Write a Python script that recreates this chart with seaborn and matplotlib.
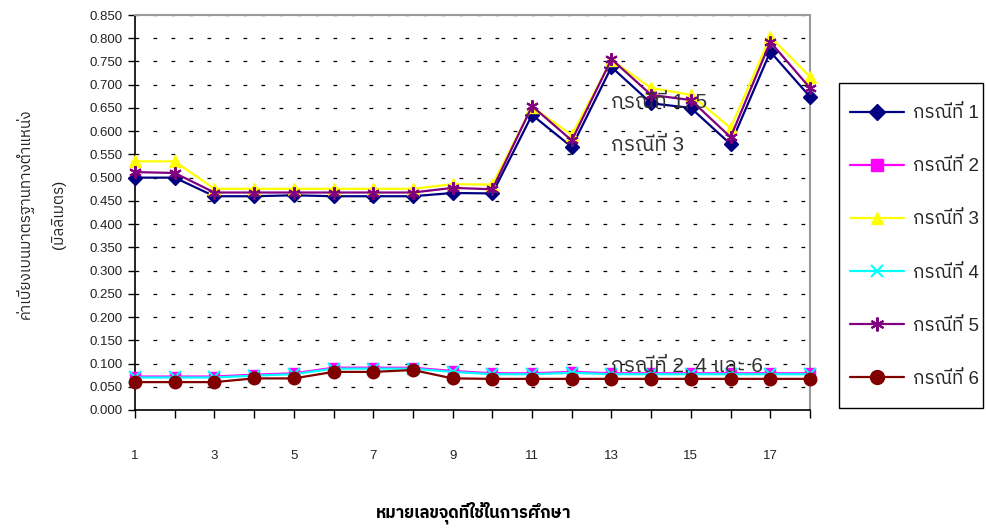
import matplotlib
matplotlib.use("Agg")
import matplotlib.pyplot as plt
from matplotlib import font_manager, ft2font
from matplotlib.lines import Line2D
from matplotlib.patches import Rectangle
import seaborn as sns
import pandas as pd

# ---- data -------------------------------------------------------------
points = list(range(1, 19))
case1 = [0.500, 0.500, 0.460, 0.460, 0.462, 0.460, 0.460, 0.460, 0.467, 0.466,
         0.635, 0.566, 0.738, 0.660, 0.650, 0.572, 0.771, 0.674]
case2 = [0.072, 0.072, 0.072, 0.076, 0.079, 0.091, 0.091, 0.091, 0.084, 0.079,
         0.079, 0.082, 0.079, 0.079, 0.079, 0.079, 0.079, 0.079]
case3 = [0.535, 0.535, 0.476, 0.476, 0.476, 0.476, 0.476, 0.476, 0.486, 0.485,
         0.652, 0.592, 0.753, 0.693, 0.678, 0.607, 0.803, 0.717]
case4 = [0.070, 0.070, 0.070, 0.074, 0.077, 0.089, 0.089, 0.089, 0.082, 0.077,
         0.077, 0.080, 0.077, 0.077, 0.077, 0.077, 0.077, 0.077]
case5 = [0.512, 0.510, 0.468, 0.468, 0.468, 0.468, 0.468, 0.468, 0.478, 0.475,
         0.654, 0.580, 0.755, 0.678, 0.667, 0.587, 0.792, 0.693]
case6 = [0.060, 0.060, 0.060, 0.068, 0.068, 0.082, 0.082, 0.086, 0.068, 0.067,
         0.067, 0.067, 0.067, 0.067, 0.067, 0.067, 0.067, 0.067]

series_names = ["กรณีที่ 1", "กรณีที่ 2", "กรณีที่ 3", "กรณีที่ 4", "กรณีที่ 5", "กรณีที่ 6"]
series_values = [case1, case2, case3, case4, case5, case6]
x_tick_labels = ["1", "3", "5", "7", "9", "11", "13", "15", "17"]
y_ticks = [round(0.05 * i, 3) for i in range(18)]

note_texts = ["กรณีที่ 1, 5", "กรณีที่ 3", "กรณีที่ 2, 4 และ 6"]
note_pos = [(13, 0.650), (13, 0.557), (13, 0.082)]

x_label = "หมายเลขจุดที่ใช้ในการศึกษา"
y_label = "ค่าเบี่ยงเบนมาตรฐานทางตำแหน่ง\n(มิลลิเมตร)"

# ---- fonts ------------------------------------------------------------
def find_thai_family():
    found = []
    for f in font_manager.fontManager.ttflist:
        try:
            cmap = ft2font.FT2Font(f.fname).get_charmap()
        except Exception:
            continue
        if 0x0E01 in cmap and 0x0E13 in cmap:
            found.append(f.name)
    if not found:
        return None
    found.sort(key=lambda n: (0 if "Thai" in n else 1, 0 if "Sans" in n else 1, n))
    return found[0]

sns.set_theme(style="white")
thai = find_thai_family()
families = ["Liberation Sans"] + ([thai] if thai else []) + ["DejaVu Sans"]
plt.rcParams["font.family"] = families

# ---- styles -----------------------------------------------------------
colors = ["#000080", "#FF00FF", "#FFFF00", "#00FFFF", "#800080", "#800000"]
markers = ["D", "s", "^", "x", (6, 2, 0), "o"]
msizes = [7, 7, 8, 8, 9, 9]
mews = [1, 1, 1, 1.5, 1.5, 1]

W, H = 986, 529
fig = plt.figure(figsize=(W / 100, H / 100), dpi=100)
ax = fig.add_axes([135 / W, 1 - 410 / H, 675 / W, 395 / H])

df = pd.DataFrame({"point": points})
for name, vals, c, m, ms, mew in zip(series_names, series_values, colors, markers, msizes, mews):
    df[name] = vals
    sns.lineplot(data=df, x="point", y=name, ax=ax, color=c, marker=m,
                 markersize=ms, markeredgecolor=c, markerfacecolor=c,
                 markeredgewidth=mew, linewidth=1.6, label=name, legend=False,
                 clip_on=False, zorder=3)

ax.set_xlim(1, 18)
ax.set_ylim(0, 0.85)

# horizontal dashed gridlines
ax.set_yticks(y_ticks)
ax.set_yticklabels([f"{v:.3f}" for v in y_ticks])
for v in y_ticks[1:]:
    ax.axhline(v, color="black", linewidth=0.9, linestyle=(0, (3.0, 11.4)), zorder=0.5)

ax.set_xticks(list(range(1, 19, 2)))
ax.set_xticklabels(x_tick_labels)
ax.set_xticks(list(range(2, 19, 2)), minor=True)
ax.tick_params(axis="x", which="both", direction="out", length=6, width=1,
               color="black", pad=23, labelsize=9.5, labelcolor="#222222")
ax.tick_params(axis="x", which="both", bottom=True)
ax.tick_params(axis="y", direction="out", length=5, width=1, color="black",
               left=True, labelsize=9.5, labelcolor="#222222", pad=4)

for side in ["left", "bottom"]:
    ax.spines[side].set_color("black")
    ax.spines[side].set_linewidth(1.2)
for side in ["top", "right"]:
    ax.spines[side].set_color("#9a9a9a")
    ax.spines[side].set_linewidth(1.5)
ax.grid(False)

ax.set_xlabel("")
ax.set_ylabel("")
fig.text(474 / W, 1 - 513 / H, x_label, ha="center", va="center",
         fontsize=12, fontweight="bold", color="black")
fig.text(41 / W, 1 - 214 / H, y_label, ha="center", va="center",
         rotation=90, fontsize=11, color="#222222", multialignment="center",
         linespacing=2.5)

for txt, (xv, yv) in zip(note_texts, note_pos):
    ax.text(xv, yv, txt, ha="left", va="baseline", fontsize=15, color="#333333",
            zorder=4)

# legend box with entries
fig.add_artist(Rectangle((839 / W, 1 - 408 / H), 144 / W, 325 / H,
                         transform=fig.transFigure, facecolor="white",
                         edgecolor="black", linewidth=1.0, zorder=1))
handles = [Line2D([0], [0], color=c, marker=m, markersize=ms + 1, markeredgecolor=c,
                  markerfacecolor=c, markeredgewidth=mew, linewidth=1.6)
           for c, m, ms, mew in zip(colors, markers, msizes, mews)]
leg = fig.legend(handles, series_names, loc="upper left",
                 bbox_to_anchor=(850 / W, 1 - 105 / H), fontsize=13.5,
                 frameon=False, labelspacing=1.92, handlelength=2.9,
                 handletextpad=0.45, borderpad=0, borderaxespad=0)
leg.set_zorder(2)

fig.savefig("out.png", dpi=100)
